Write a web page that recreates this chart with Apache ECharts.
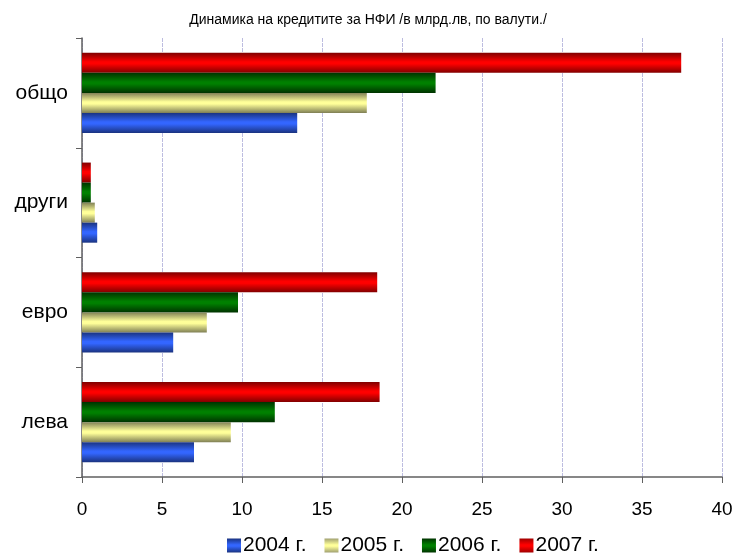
<!DOCTYPE html>
<html lang="bg">
<head>
    <meta charset="UTF-8">
    <title>Динамика на кредитите за НФИ</title>
    <script src="https://cdn.jsdelivr.net/npm/echarts@6/dist/echarts.min.js"></script>
    <style>
        html, body { margin: 0; padding: 0; background: #fff; }
        #chart { width: 736px; height: 554px; }
    </style>
</head>
<body>
    <div id="chart"></div>
    <script>
        // категории отдолу нагоре
        var categories = ['лева', 'евро', 'други', 'общо'];
        var years = ['2004 г.', '2005 г.', '2006 г.', '2007 г.'];
        var v2004 = [7.0, 5.7, 0.95, 13.45];
        var v2005 = [9.3, 7.8, 0.8, 17.8];
        var v2006 = [12.05, 9.75, 0.55, 22.1];
        var v2007 = [18.6, 18.45, 0.55, 37.45];
        var xTicks = [0, 5, 10, 15, 20, 25, 30, 35, 40];

        var font = '"Liberation Sans", Arial, sans-serif';

        // тъмен ръб - светла среда - тъмен ръб
        function shade(dark, light) {
            return new echarts.graphic.LinearGradient(0, 0, 0, 1, [
                { offset: 0, color: dark },
                { offset: 0.45, color: light },
                { offset: 0.55, color: light },
                { offset: 1, color: dark }
            ]);
        }
        var colors = [
            shade('#1a3380', '#3366ff'),
            shade('#808055', '#ffff99'),
            shade('#003300', '#008000'),
            shade('#800000', '#ff0000')
        ];
        var legendColors = [
            shade('#1a3380', '#3366ff'),
            shade('#a0a070', '#ffff99'),
            shade('#003300', '#008000'),
            shade('#a00000', '#ff0000')
        ];
        var values = [v2004, v2005, v2006, v2007];

        // в echarts първата серия е най-горе, затова редът е обърнат
        var series = [];
        for (var i = years.length - 1; i >= 0; i--) {
            series.push({
                name: years[i],
                type: 'bar',
                data: values[i],
                barGap: '0%',
                barCategoryGap: '27%',
                itemStyle: { color: colors[i] }
            });
        }

        var chart = echarts.init(document.getElementById('chart'));
        chart.setOption({
            animation: false,
            title: {
                text: 'Динамика на кредитите за НФИ /в млрд.лв, по валути./',
                left: 'center',
                top: 8,
                textStyle: { fontFamily: font, fontSize: 14, fontWeight: 'normal', color: '#000' }
            },
            legend: {
                left: 222,
                top: 530,
                itemWidth: 14,
                itemHeight: 14,
                itemGap: 18,
                icon: 'rect',
                textStyle: { fontFamily: font, fontSize: 21, color: '#000', padding: [0, 0, 0, -3] },
                data: years.map(function (y, i) {
                    return { name: y, itemStyle: { color: legendColors[i] } };
                })
            },
            grid: { left: 82, right: 14, top: 38, bottom: 77, containLabel: false },
            xAxis: {
                type: 'value',
                min: 0,
                max: 40,
                interval: 5,
                axisLine: { show: true, lineStyle: { color: '#606060', width: 1.5 } },
                axisTick: { show: true, length: 6, lineStyle: { color: '#606060' } },
                axisLabel: {
                    margin: 23,
                    fontFamily: font, fontSize: 19, color: '#000',
                    formatter: function (v) { return xTicks.indexOf(v) >= 0 ? String(v) : ''; }
                },
                splitLine: { show: true, lineStyle: { color: '#bcbce0', type: [4, 1], width: 1 } }
            },
            yAxis: {
                type: 'category',
                data: categories,
                axisLine: { show: true, lineStyle: { color: '#606060', width: 1.5 } },
                axisTick: { show: true, length: 6, lineStyle: { color: '#606060' } },
                axisLabel: { margin: 14, fontFamily: font, fontSize: 21, color: '#000' },
                splitLine: { show: false }
            },
            series: series
        });
    </script>
</body>
</html>
